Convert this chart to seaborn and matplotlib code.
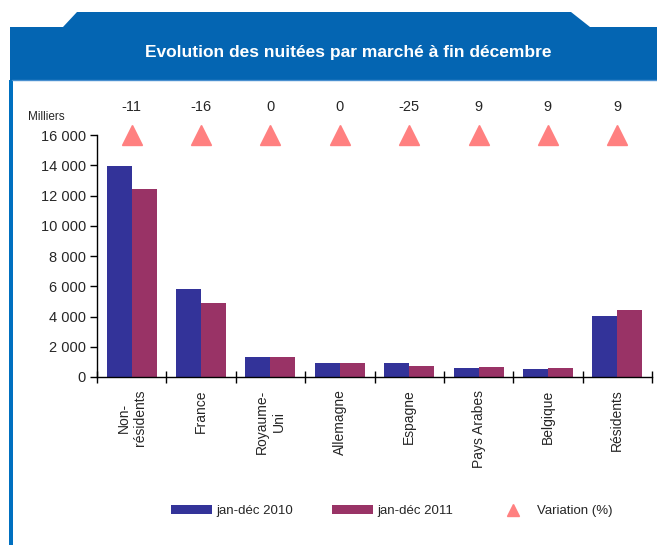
import pandas as pd
import numpy as np
import matplotlib
matplotlib.use('Agg')
import matplotlib.pyplot as plt
import seaborn as sns
from matplotlib.patches import Polygon, Rectangle, Patch
from matplotlib.lines import Line2D
from matplotlib.ticker import FuncFormatter, FixedLocator

# données (milliers de nuitées)
marches = ['Non-\nrésidents', 'France', 'Royaume-\nUni', 'Allemagne', 'Espagne',
           'Pays Arabes', 'Belgique', 'Résidents']
nuitees_2010 = [13950, 5830, 1320, 930, 940, 600, 550, 4050]
nuitees_2011 = [12430, 4910, 1320, 930, 700, 650, 600, 4420]
variation = [-11, -16, 0, 0, -25, 9, 9, 9]
series = ['jan-déc 2010', 'jan-déc 2011']

couleurs = {'jan-déc 2010': '#333399', 'jan-déc 2011': '#993366'}
TRIANGLE = '#FF8080'
BLEU = '#0465B2'

df = pd.DataFrame({
    'marche': marches * 2,
    'serie': [series[0]] * len(marches) + [series[1]] * len(marches),
    'valeur': nuitees_2010 + nuitees_2011,
})

sns.set_style('white')
plt.rcParams['font.family'] = ['Liberation Sans', 'DejaVu Sans']

W, H = 657, 545
fig = plt.figure(figsize=(W / 100, H / 100), dpi=100)

def fx(px):
    return px / W

def fy(py):
    return 1 - py / H

# cadre bleu (onglet + bandeau + bord gauche)
tab = Polygon([(fx(10), fy(80)), (fx(10), fy(27)), (fx(63), fy(27)), (fx(77), fy(12)),
               (fx(571), fy(12)), (fx(590), fy(27)), (fx(657), fy(27)), (fx(657), fy(80))],
              closed=True, transform=fig.transFigure, facecolor=BLEU, edgecolor='none')
fig.patches.append(tab)
fig.patches.append(Rectangle((fx(9), 0), fx(3.5), fy(80), transform=fig.transFigure,
                             facecolor='#0070C0', edgecolor='none'))
fig.lines.append(Line2D([fx(12), 1], [fy(80), fy(80)], transform=fig.transFigure,
                        color='#4A90D0', lw=1))
fig.text(fx(348), fy(52), 'Evolution des nuitées par marché à fin décembre',
         color='white', fontsize=12.5, fontweight='bold', ha='center', va='center')

ax = fig.add_axes([fx(97), fy(377), fx(652) - fx(97), fy(135) - fy(377)])

sns.barplot(data=df, x='marche', y='valeur', hue='serie', palette=couleurs,
            width=0.72, gap=0, saturation=1, linewidth=0, ax=ax, legend=False)

ax.set_ylim(0, 16000)
ax.set_xlim(-0.5, len(marches) - 0.5)
ax.set_yticks(np.arange(0, 16001, 2000))
ax.yaxis.set_major_formatter(FuncFormatter(lambda v, p: f'{int(v):,}'.replace(',', ' ')))
ax.tick_params(axis='y', direction='out', length=5, width=1, labelsize=10.5, pad=3,
               left=True, color='black')

ax.set_xticks(range(len(marches)))
ax.set_xticklabels(marches, rotation=90, fontsize=10, va='top', ha='center')
ax.tick_params(axis='x', which='major', length=0, pad=9)
ax.xaxis.set_minor_locator(FixedLocator(np.arange(-0.5, len(marches), 1.0)))
ax.tick_params(axis='x', which='minor', direction='inout', length=9, width=1,
               bottom=True, color='black')

for s in ['top', 'right']:
    ax.spines[s].set_visible(False)
for s in ['left', 'bottom']:
    ax.spines[s].set_color('black')
    ax.spines[s].set_linewidth(1)

ax.set_xlabel('')
ax.set_ylabel('')

# variation (%) : triangles et étiquettes
xs = np.arange(len(marches))
ax.plot(xs, [16000] * len(marches), linestyle='none', marker='^', markersize=14,
        color=TRIANGLE, clip_on=False, zorder=5)
for x, v in zip(xs, variation):
    ax.annotate(f'{v}', (x, 16000), xytext=(0, 28), textcoords='offset pixels',
                ha='center', va='center', fontsize=10.5, annotation_clip=False)

fig.text(fx(28), fy(117), 'Milliers', fontsize=8.5, ha='left', va='center')

handles = [Patch(facecolor=couleurs[series[0]], edgecolor='none', label=series[0]),
           Patch(facecolor=couleurs[series[1]], edgecolor='none', label=series[1]),
           Line2D([], [], linestyle='none', marker='^', markersize=9, color=TRIANGLE,
                  label='Variation (%)')]
fig.legend(handles=handles, loc='center', bbox_to_anchor=(fx(392), fy(511)), ncol=3,
           frameon=False, fontsize=9.5, handlelength=3.1, handletextpad=0.3,
           columnspacing=3.0, handleheight=0.6)

fig.savefig('out.png', dpi=100, facecolor='white')
